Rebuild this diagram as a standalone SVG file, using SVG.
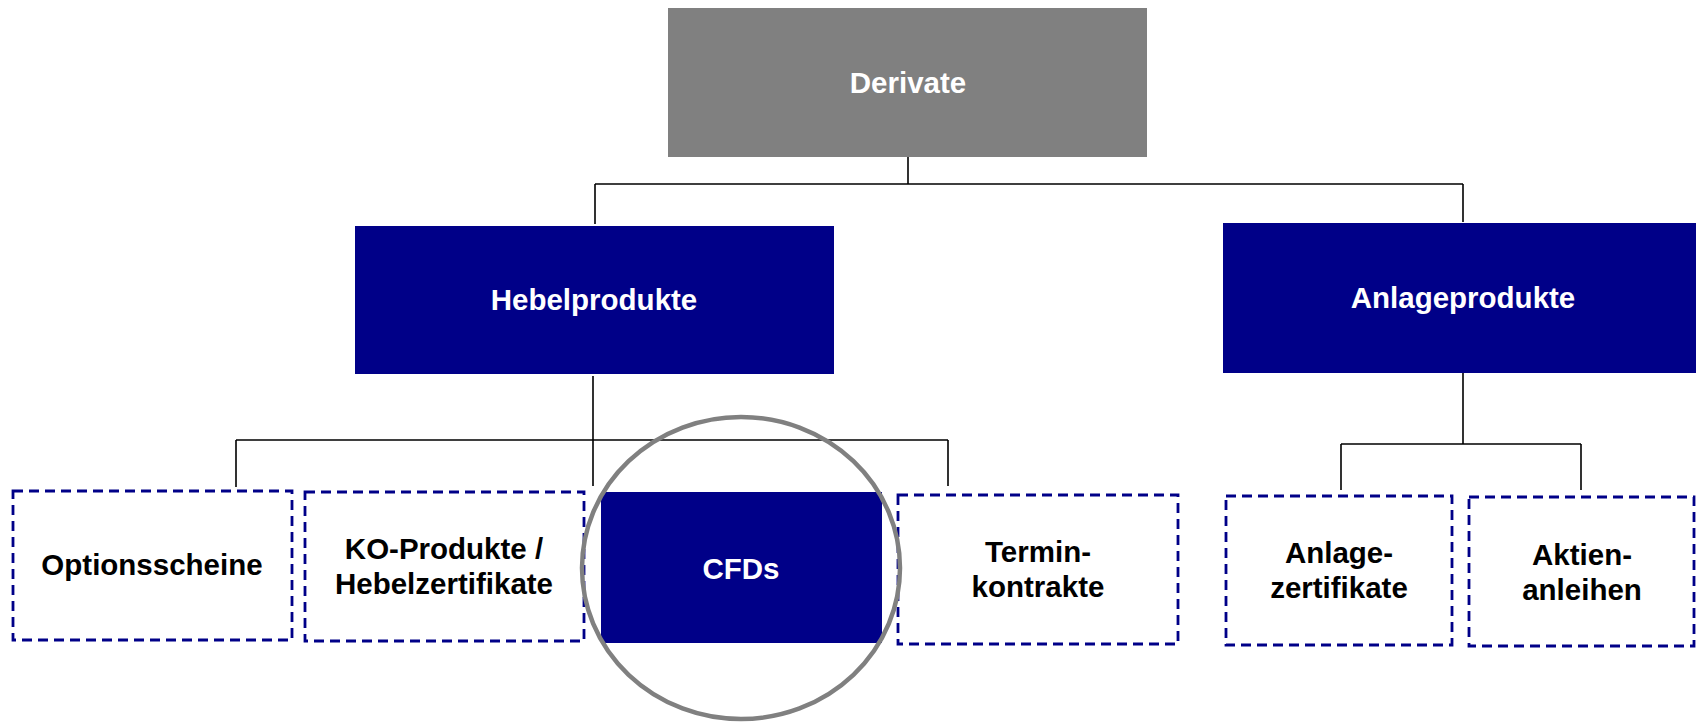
<svg xmlns="http://www.w3.org/2000/svg" width="1696" height="723" viewBox="0 0 1696 723">
<style>
text{font-family:"Liberation Sans",Arial,sans-serif;font-weight:bold;font-size:29.5px;text-anchor:middle}
.w{fill:#ffffff}
.k{fill:#000000}
.solid{fill:#000088;stroke:none}
.dash{fill:#ffffff;stroke:#000088;stroke-width:2.8;stroke-dasharray:10 6}
.conn{fill:none;stroke:#000000;stroke-width:1.6}
</style>
<rect width="1696" height="723" fill="#ffffff"/>
<g id="connectors">
<path class="conn" d="M908,157 V184 M595,184 H1463 M595,184 V224 M1463,184 V222"/>
<path class="conn" d="M593,376 V486 M236,440 H948 M236,440 V487 M948,440 V486"/>
<path class="conn" d="M1463,373 V444 M1341,444 H1581 M1341,444 V490 M1581,444 V490"/>
</g>
<g id="derivate">
<rect x="668" y="8" width="479" height="149" fill="#808080"/>
<text class="w" x="908" y="93">Derivate</text>
</g>
<g id="hebelprodukte">
<rect class="solid" x="355" y="226" width="479" height="148"/>
<text class="w" x="594" y="310">Hebelprodukte</text>
</g>
<g id="anlageprodukte">
<rect class="solid" x="1223" y="223" width="480" height="150"/>
<text class="w" x="1463" y="308">Anlageprodukte</text>
</g>
<g id="optionsscheine">
<rect class="dash" x="13" y="491" width="279" height="149"/>
<text class="k" x="152" y="575">Optionsscheine</text>
</g>
<g id="ko-produkte">
<rect class="dash" x="305" y="492" width="279" height="149"/>
<text class="k" x="444" y="559">KO-Produkte /</text>
<text class="k" x="444" y="594">Hebelzertifikate</text>
</g>
<g id="cfds">
<rect class="solid" x="601" y="492" width="281" height="151"/>
<text class="w" x="741" y="579">CFDs</text>
</g>
<g id="terminkontrakte">
<rect class="dash" x="898" y="495" width="280" height="149"/>
<text class="k" x="1038" y="562">Termin-</text>
<text class="k" x="1038" y="597">kontrakte</text>
</g>
<g id="anlagezertifikate">
<rect class="dash" x="1226" y="496" width="226" height="149"/>
<text class="k" x="1339" y="563">Anlage-</text>
<text class="k" x="1339" y="598">zertifikate</text>
</g>
<g id="aktienanleihen">
<rect class="dash" x="1469" y="497" width="225" height="149"/>
<text class="k" x="1582" y="565">Aktien-</text>
<text class="k" x="1582" y="600">anleihen</text>
</g>
<ellipse id="highlight" cx="741" cy="568" rx="159" ry="151" fill="none" stroke="#808080" stroke-width="4.5"/>
</svg>
